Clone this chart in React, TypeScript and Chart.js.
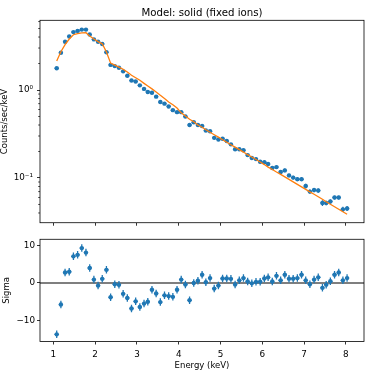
import React, { useEffect, useRef } from "react";
import { Chart, registerables } from "chart.js";
Chart.register(...registerables);

const TITLE = "Model: solid (fixed ions)";
const X_LABEL = "Energy (keV)";
const Y_TOP_LABEL = "Counts/sec/keV";
const Y_BOT_LABEL = "Sigma";

const energy = [
  1.08, 1.18, 1.28, 1.38, 1.48, 1.58, 1.68, 1.78, 1.87, 1.97,
  2.07, 2.17, 2.27, 2.37, 2.47, 2.57, 2.67, 2.77, 2.87, 2.97,
  3.07, 3.17, 3.26, 3.36, 3.46, 3.56, 3.66, 3.76, 3.86, 3.96,
  4.06, 4.16, 4.26, 4.36, 4.46, 4.56, 4.65, 4.75, 4.85, 4.95,
  5.05, 5.15, 5.25, 5.35, 5.45, 5.55, 5.65, 5.75, 5.85, 5.95,
  6.05, 6.14, 6.24, 6.34, 6.44, 6.54, 6.64, 6.74, 6.84, 6.94,
  7.04, 7.14, 7.24, 7.34, 7.44, 7.53, 7.63, 7.73, 7.83, 7.93,
  8.03,
];
const halfBin = 0.05;

const counts = [
  1.77, 2.65, 3.54, 4.06, 4.55, 4.70, 4.86, 4.86, 4.27, 3.76,
  3.54, 3.34, 2.69, 1.93, 1.87, 1.79, 1.63, 1.45, 1.28, 1.25,
  1.13, 1.03, 0.95, 0.93, 0.84, 0.73, 0.70, 0.65, 0.59, 0.56,
  0.56, 0.50, 0.40, 0.43, 0.40, 0.39, 0.346, 0.34, 0.286, 0.274,
  0.279, 0.263, 0.241, 0.212, 0.212, 0.207, 0.182, 0.169, 0.164, 0.153,
  0.151, 0.144, 0.130, 0.133, 0.117, 0.122, 0.107, 0.101, 0.097, 0.097,
  0.081, 0.070, 0.073, 0.072, 0.052, 0.052, 0.054, 0.060, 0.060, 0.044,
  0.045,
];

const countErr = [
  0.04, 0.05, 0.07, 0.08, 0.09, 0.09, 0.09, 0.09, 0.08, 0.07,
  0.07, 0.06, 0.05, 0.045, 0.045, 0.04, 0.04, 0.035, 0.032, 0.03,
  0.027, 0.025, 0.024, 0.022, 0.02, 0.018, 0.017, 0.016, 0.015, 0.014,
  0.014, 0.013, 0.013, 0.013, 0.012, 0.012, 0.012, 0.011, 0.011, 0.010,
  0.010, 0.010, 0.009, 0.008, 0.008, 0.008, 0.007, 0.007, 0.007, 0.007,
  0.006, 0.006, 0.006, 0.006, 0.006, 0.006, 0.005, 0.005, 0.005, 0.005,
  0.005, 0.004, 0.004, 0.004, 0.004, 0.003, 0.003, 0.003, 0.003, 0.003,
  0.003,
];

const model = [
  2.14, 2.72, 3.28, 3.8, 4.25, 4.38, 4.45, 4.48, 4.1, 3.8,
  3.55, 3.35, 2.7, 2.02, 1.92, 1.82, 1.72, 1.60, 1.47, 1.38,
  1.29, 1.19, 1.11, 1.03, 0.95, 0.87, 0.80, 0.73, 0.68, 0.625,
  0.55, 0.505, 0.465, 0.435, 0.40, 0.377, 0.353, 0.331, 0.310, 0.291,
  0.272, 0.255, 0.239, 0.224, 0.210, 0.197, 0.184, 0.173, 0.162, 0.152,
  0.142, 0.133, 0.125, 0.117, 0.110, 0.103, 0.0964, 0.0903, 0.0846, 0.0793,
  0.0743, 0.0696, 0.0652, 0.0611, 0.0572, 0.0536, 0.0502, 0.0471, 0.0441, 0.0413,
  0.0387,
];

const sigma = [
  -13.7, -5.75, 2.8, 3.0, 7.1, 7.5, 9.3, 8.1, 4.0, 0.9,
  -0.7, 1.1, 3.5, -3.8, -0.35, -0.5, -2.9, -4.0, -6.8, -4.9,
  -6.4, -5.5, -5.0, -1.8, -2.8, -5.1, -3.3, -3.5, -3.7, -1.8,
  0.9, -0.4, -4.6, 0.0, 0.6, 2.2, 0.2, 1.3, -1.5, -0.7,
  1.2, 1.2, 1.1, -0.4, 0.7, 1.3, 0.4, -0.1, 0.3, 0.35,
  1.2, 1.5, 0.4, 1.9, 0.7, 2.2, 1.15, 1.15, 1.3, 2.2,
  0.7, -0.35, 0.9, 1.5, -1.3, -0.45, 0.45, 2.2, 2.8, 0.7,
  1.3,
];
const sigmaErr = 1;

const xTicks = [1, 2, 3, 4, 5, 6, 7, 8];
const topMajor = [0.1, 1];
const topMinor = [0.04, 0.05, 0.06, 0.07, 0.08, 0.09, 0.2, 0.3, 0.4, 0.5, 0.6, 0.7, 0.8, 0.9, 2, 3, 4, 5, 6];
const sigmaTicks = [-10, 0, 10];

const X_MIN = 0.68;
const X_MAX = 8.435;

const BLUE = "#1f77b4";
const ORANGE = "#ff7f0e";
const FONT = "'DejaVu Sans'";
const FS = 8.5;
const TICK_FS = 8.8;
const TITLE_FS = 10.2;

Chart.defaults.font.family = FONT;
Chart.defaults.font.size = FS;
Chart.defaults.color = "#000";

function errorBars(id: string, ys: number[], yerr: (i: number) => number) {
  return {
    id,
    beforeDatasetsDraw(chart: any) {
      const { ctx, chartArea, scales } = chart;
      const x = scales.x;
      const y = scales.y;
      ctx.save();
      ctx.beginPath();
      ctx.rect(chartArea.left, chartArea.top, chartArea.width, chartArea.height);
      ctx.clip();
      ctx.strokeStyle = BLUE;
      ctx.lineWidth = 1.3;
      ctx.beginPath();
      for (let i = 0; i < energy.length; i++) {
        const px = x.getPixelForValue(energy[i]);
        const py = y.getPixelForValue(ys[i]);
        const e = yerr(i);
        ctx.moveTo(px, y.getPixelForValue(ys[i] - e));
        ctx.lineTo(px, y.getPixelForValue(ys[i] + e));
        ctx.moveTo(x.getPixelForValue(energy[i] - halfBin), py);
        ctx.lineTo(x.getPixelForValue(energy[i] + halfBin), py);
      }
      ctx.stroke();
      ctx.restore();
    },
  };
}

const frame = {
  id: "frame",
  afterDraw(chart: any) {
    const { ctx, chartArea } = chart;
    ctx.save();
    ctx.strokeStyle = "#000";
    ctx.lineWidth = 0.8;
    ctx.strokeRect(chartArea.left, chartArea.top, chartArea.width, chartArea.height);
    ctx.restore();
  },
};

const topExtras = {
  id: "topExtras",
  afterDraw(chart: any) {
    const { ctx, chartArea, scales } = chart;
    const y = scales.y;
    ctx.save();
    ctx.strokeStyle = "#000";
    ctx.lineWidth = 0.7;
    ctx.beginPath();
    for (const v of topMinor) {
      const py = y.getPixelForValue(v);
      ctx.moveTo(chartArea.left - 1.8, py);
      ctx.lineTo(chartArea.left, py);
    }
    ctx.stroke();
    ctx.fillStyle = "#000";
    ctx.font = `${TITLE_FS}px ${FONT}`;
    ctx.textAlign = "center";
    ctx.textBaseline = "alphabetic";
    ctx.fillText(TITLE, (chartArea.left + chartArea.right) / 2, 15.5);
    ctx.restore();
  },
};

const zeroLine = {
  id: "zeroLine",
  beforeDatasetsDraw(chart: any) {
    const { ctx, chartArea, scales } = chart;
    const py = scales.y.getPixelForValue(0);
    ctx.save();
    ctx.strokeStyle = "#000";
    ctx.lineWidth = 1.1;
    ctx.beginPath();
    ctx.moveTo(chartArea.left, py);
    ctx.lineTo(chartArea.right, py);
    ctx.stroke();
    ctx.restore();
  },
};

export default function App() {
  const topRef = useRef<HTMLCanvasElement>(null);
  const botRef = useRef<HTMLCanvasElement>(null);

  useEffect(() => {
    const top = new Chart(topRef.current as HTMLCanvasElement, {
      type: "line",
      data: {
        datasets: [
          {
            data: energy.map((e, i) => ({ x: e, y: model[i] })),
            borderColor: ORANGE,
            borderWidth: 1.3,
            pointRadius: 0,
            tension: 0,
            fill: false,
          } as any,
          {
            data: energy.map((e, i) => ({ x: e, y: counts[i] })),
            showLine: false,
            pointRadius: 2.2,
            pointBackgroundColor: BLUE,
            pointBorderWidth: 0,
            borderColor: BLUE,
          } as any,
        ],
      },
      options: {
        responsive: false,
        animation: false,
        devicePixelRatio: 1,
        layout: { padding: { top: 20.3, right: 10, left: 0, bottom: 0 } },
        plugins: { legend: { display: false }, tooltip: { enabled: false } },
        scales: {
          x: {
            type: "linear",
            min: X_MIN,
            max: X_MAX,
            afterBuildTicks: (s: any) => {
              s.ticks = xTicks.map((v) => ({ value: v }));
            },
            ticks: { display: false },
            grid: { drawOnChartArea: false, drawTicks: true, tickLength: 3, tickColor: "#000", tickWidth: 0.8 },
            border: { display: false },
            afterFit: (s: any) => {
              s.height = 5.7;
            },
          },
          y: {
            type: "logarithmic",
            min: 0.031,
            max: 6.2,
            afterBuildTicks: (s: any) => {
              s.ticks = [...topMinor, ...topMajor].sort((a, b) => a - b).map((v) => ({ value: v }));
            },
            ticks: {
              autoSkip: false,
              padding: 4,
              font: { size: TICK_FS },
              callback: (v: any) => (v === 1 ? "10⁰" : v === 0.1 ? "10⁻¹" : ""),
            },
            grid: {
              drawOnChartArea: false,
              tickLength: 3,
              tickWidth: 0.8,
              tickColor: (c: any) => (c.tick && topMajor.includes(c.tick.value) ? "#000" : "rgba(0,0,0,0)"),
            },
            border: { display: false },
            title: { display: true, text: Y_TOP_LABEL, padding: { top: 0, bottom: 0 } },
            afterFit: (s: any) => {
              s.width = 40;
            },
          },
        },
      } as any,
      plugins: [errorBars("ebTop", counts, (i) => countErr[i]), frame, topExtras],
    });

    const bot = new Chart(botRef.current as HTMLCanvasElement, {
      type: "line",
      data: {
        datasets: [
          {
            data: energy.map((e, i) => ({ x: e, y: sigma[i] })),
            showLine: false,
            pointRadius: 2.2,
            pointBackgroundColor: BLUE,
            pointBorderWidth: 0,
            borderColor: BLUE,
          } as any,
        ],
      },
      options: {
        responsive: false,
        animation: false,
        devicePixelRatio: 1,
        layout: { padding: { top: 6.7, right: 10, left: 0, bottom: 0 } },
        plugins: { legend: { display: false }, tooltip: { enabled: false } },
        scales: {
          x: {
            type: "linear",
            min: X_MIN,
            max: X_MAX,
            afterBuildTicks: (s: any) => {
              s.ticks = xTicks.map((v) => ({ value: v }));
            },
            ticks: { autoSkip: false, maxRotation: 0, padding: 4.5, font: { size: TICK_FS }, callback: (v: any) => String(v) },
            grid: { drawOnChartArea: false, drawTicks: true, tickLength: 3, tickColor: "#000", tickWidth: 0.8 },
            border: { display: false },
            title: { display: true, text: X_LABEL, padding: { top: 0, bottom: 3 } },
            afterFit: (s: any) => {
              s.height = 32.5;
            },
          },
          y: {
            type: "linear",
            min: -15.6,
            max: 11.65,
            afterBuildTicks: (s: any) => {
              s.ticks = sigmaTicks.map((v) => ({ value: v }));
            },
            ticks: {
              autoSkip: false,
              padding: 2,
              font: { size: TICK_FS },
              callback: (v: any) => (v < 0 ? "\u2212" + Math.abs(v) : String(v)),
            },
            grid: { drawOnChartArea: false, tickLength: 3, tickWidth: 0.8, tickColor: "#000" },
            border: { display: false },
            title: { display: true, text: Y_BOT_LABEL, padding: { top: 2, bottom: 0 } },
            afterFit: (s: any) => {
              s.width = 40;
            },
          },
        },
      } as any,
      plugins: [zeroLine, errorBars("ebBot", sigma, () => sigmaErr), frame],
    });

    return () => {
      top.destroy();
      bot.destroy();
    };
  }, []);

  return (
    <div style={{ position: "fixed", left: 0, top: 0, width: 374, height: 374, background: "#fff" }}>
      <canvas
        ref={topRef}
        width={374}
        height={232}
        style={{ position: "absolute", left: 0, top: 0, width: 374, height: 232 }}
      />
      <canvas
        ref={botRef}
        width={374}
        height={142}
        style={{ position: "absolute", left: 0, top: 232, width: 374, height: 142 }}
      />
    </div>
  );
}
